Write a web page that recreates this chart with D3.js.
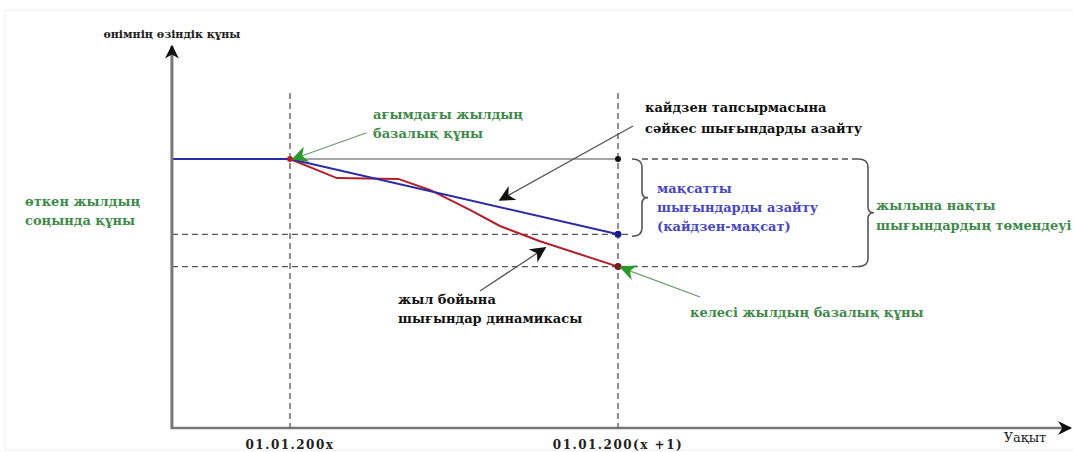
<!DOCTYPE html>
<html><head><meta charset="utf-8">
<script src="https://cdn.jsdelivr.net/npm/d3@7"></script>
<style>
html,body{margin:0;padding:0;background:#fff;overflow:hidden}
svg text{font-family:"DejaVu Serif",serif;font-weight:bold}
</style></head>
<body>
<svg id="c" width="1073" height="452"></svg>
<script>
// ---- data ----
const periodTicks = [0, 1];
const periodLabels = ["01.01.200х", "01.01.200(х +1)"];
const baseValue = 100;          // base cost at start of year
const targetValue = 72;         // kaizen target at end of year
const actualValue = 60;         // actual cost at end of year
const prevYearT = [-0.36, 0];
const prevYearV = [100, 100];
const targetT = [0, 1];
const targetV = [100, 72];
const actualT = [0, 0.143, 0.33, 0.427, 0.55, 0.64, 0.76, 1];
const actualV = [100, 92.9, 92.6, 88.5, 81, 75.1, 69.5, 60];
const yAxisTitle = "өнімнің өзіндік құны";
const xAxisTitle = "Уақыт";

// ---- scales ----
const x = d3.scaleLinear().domain([0, 1]).range([290, 618]);
const y = d3.scaleLinear().domain([0, 100]).range([428, 159]);
const svg = d3.select("#c");

svg.append("rect").attr("x",5).attr("y",10).attr("width",1070).attr("height",440)
  .attr("fill","none").attr("stroke","#f0f0f0").attr("stroke-width",1);

const defs = svg.append("defs");
function marker(id, color, size){
  defs.append("marker").attr("id",id).attr("viewBox","0 0 10 10").attr("refX",9).attr("refY",5)
    .attr("markerWidth",size).attr("markerHeight",size).attr("orient","auto").attr("markerUnits","userSpaceOnUse")
    .append("path").attr("d","M0,0 L10,5 L0,10 L3,5 Z").attr("fill",color);
}
marker("axisArr","#111",14);
marker("blkArr","#111",16);
marker("grnArr","#2a9a2a",16);

const xMin = x(-0.36), xMax = x(2.38);
const yBase = y(0);

const dash = "6,4";
const gGuide = svg.append("g").attr("stroke","#555").attr("stroke-width",1.3).attr("stroke-dasharray",dash).attr("fill","none");
periodTicks.forEach(t=>{
  gGuide.append("line").attr("x1",x(t)).attr("x2",x(t)).attr("y1",93).attr("y2",yBase);
});
gGuide.append("line").attr("x1",xMin).attr("x2",x(1)+14).attr("y1",y(targetValue)).attr("y2",y(targetValue));
gGuide.append("line").attr("x1",xMin).attr("x2",x(1)+240).attr("y1",y(actualValue)).attr("y2",y(actualValue));
gGuide.append("line").attr("x1",x(1)+24).attr("x2",x(1)+240).attr("y1",y(baseValue)).attr("y2",y(baseValue));

svg.append("line").attr("x1",x(0)).attr("x2",x(1)).attr("y1",y(baseValue)).attr("y2",y(baseValue))
  .attr("stroke","#888").attr("stroke-width",1.6);

function brace(xb, y0, y1, w){
  const ym=(y0+y1)/2;
  return `M${xb-4},${y0} Q${xb+w*0.5},${y0} ${xb+w*0.5},${y0+8} L${xb+w*0.5},${ym-6} Q${xb+w*0.5},${ym} ${xb+w},${ym} Q${xb+w*0.5},${ym} ${xb+w*0.5},${ym+6} L${xb+w*0.5},${y1-8} Q${xb+w*0.5},${y1} ${xb-4},${y1}`;
}
svg.append("path").attr("d",brace(x(1)+18,y(baseValue),y(targetValue)+2,12))
  .attr("fill","none").attr("stroke","#555").attr("stroke-width",1.6);
svg.append("path").attr("d",brace(x(1)+244,y(baseValue),y(actualValue),12))
  .attr("fill","none").attr("stroke","#555").attr("stroke-width",1.6);

const line = d3.line().x(d=>x(d[0])).y(d=>y(d[1]));
svg.append("path").datum(d3.zip(prevYearT,prevYearV)).attr("d",line).attr("fill","none").attr("stroke","#2b2ba8").attr("stroke-width",2);
svg.append("path").datum(d3.zip(actualT,actualV)).attr("d",line).attr("fill","none").attr("stroke","#b0202c").attr("stroke-width",2);
svg.append("path").datum(d3.zip(targetT,targetV)).attr("d",line).attr("fill","none").attr("stroke","#2b2ba8").attr("stroke-width",2);

svg.append("circle").attr("cx",x(0)).attr("cy",y(baseValue)).attr("r",3).attr("fill","#b0202c");
svg.append("circle").attr("cx",x(1)).attr("cy",y(baseValue)).attr("r",3).attr("fill","#111");
svg.append("circle").attr("cx",x(1)).attr("cy",y(targetValue)).attr("r",3.5).attr("fill","#1a1a90");
svg.append("circle").attr("cx",x(1)).attr("cy",y(actualValue)).attr("r",3.5).attr("fill","#7a1a1a");

svg.append("line").attr("x1",xMin).attr("x2",xMin).attr("y1",yBase+1).attr("y2",46)
  .attr("stroke","#777").attr("stroke-width",3).attr("marker-end","url(#axisArr)");
svg.append("line").attr("x1",xMin-1).attr("x2",xMax).attr("y1",yBase).attr("y2",yBase)
  .attr("stroke","#777").attr("stroke-width",2.5).attr("marker-end","url(#axisArr)");

svg.selectAll(".tl").data(periodTicks).enter().append("text")
  .attr("x",d=>x(d)).attr("y",449).attr("text-anchor","middle").attr("font-size",12).attr("letter-spacing",1.5).attr("fill","#222")
  .text((d,i)=>periodLabels[i]);
svg.append("text").attr("x",1025).attr("y",442).attr("text-anchor","middle").attr("font-size",13).style("font-weight","normal").attr("fill","#222").text(xAxisTitle);
svg.append("text").attr("x",xMin).attr("y",38).attr("text-anchor","middle").attr("font-size",11).attr("fill","#222").text(yAxisTitle);

function lines(xp, yp, arr, color, size, lh){
  const t = svg.append("text").attr("x",xp).attr("y",yp).attr("fill",color).attr("font-size",size);
  arr.forEach((s,i)=>t.append("tspan").attr("x",xp).attr("dy",i?lh:0).text(s));
}
const green="#3f8a4a";
lines(25,206,["өткен жылдың","соңында құны"],green,13,19);
lines(373,119,["ағымдағы жылдың","базалық құны"],green,13,19);
lines(645,112,["кайдзен тапсырмасына","сәйкес шығындарды азайту"],"#111",13,21);
lines(657,193,["мақсатты","шығындарды азайту","(кайдзен-мақсат)"],"#4848c0",13,19);
lines(876,210,["жылына нақты","шығындардың төмендеуі"],green,13,20);
lines(398,304,["жыл бойына","шығындар динамикасы"],"#111",13,19);
lines(690,317,["келесі жылдың базалық құны"],green,13,20);

function arrow(x1,y1,x2,y2,color,mk){
  svg.append("line").attr("x1",x1).attr("y1",y1).attr("x2",x2).attr("y2",y2)
    .attr("stroke",color).attr("stroke-width",1.3).attr("marker-end",`url(#${mk})`);
}
arrow(366,133,x(0)+3,y(baseValue),"#6a9a6a","grnArr");
arrow(633,126,500,200,"#555","blkArr");
arrow(480,291,545,248,"#555","blkArr");
arrow(700,297,x(1)+3,y(actualValue)+1,"#6a9a6a","grnArr");
</script>
</body></html>
